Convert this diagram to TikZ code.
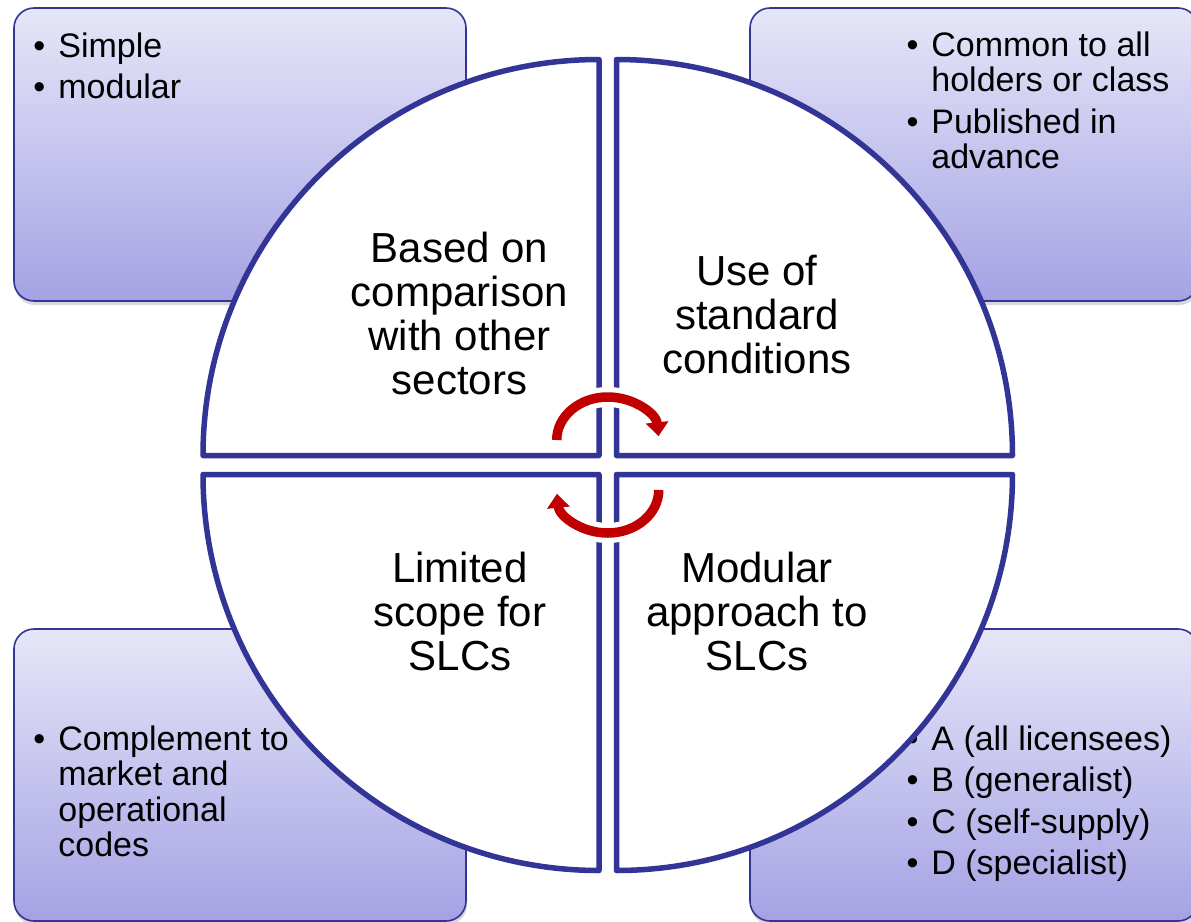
\documentclass[tikz,border=0pt]{standalone}
\usepackage{fontspec}
\setmainfont{Liberation Sans}
\usetikzlibrary{arrows.meta,shadows}
\definecolor{qblue}{RGB}{50,52,150}
\definecolor{btop}{RGB}{230,230,248}
\definecolor{bbot}{RGB}{165,162,228}
\definecolor{darr}{RGB}{192,0,0}
\newcommand\bulitem{\llap{\textbullet\hspace{6.5pt}}}
\begin{document}
\begin{tikzpicture}[x=0.5pt,y=-0.5pt,
 infobox/.style={draw=qblue, line width=0.8pt, rounded corners=10pt, top color=btop, bottom color=bbot,
   drop shadow={opacity=0.3, shadow xshift=0.5pt, shadow yshift=-2pt}},
 quad/.style={draw=qblue, fill=white, line width=2.75pt, line join=round},
 qtext/.style={inner sep=0pt, anchor=base, font=\fontsize{21}{22}\selectfont},
 btext/.style={inner sep=0pt, anchor=base west, font=\fontsize{17}{17.75}\selectfont},
 halo/.style={white, line width=10pt},
 cyc/.style={darr, line width=4.75pt, -{Triangle[length=7pt,width=11pt]}},
]
\useasboundingbox (0,0) rectangle (1191,922);
\fill[white] (0,0) rectangle (1191,922);
% side boxes
\path[infobox] (14,8) rectangle (466,301);
\path[infobox] (750,8) rectangle (1198,301);
\path[infobox] (14,629) rectangle (466,921);
\path[infobox] (750,629) rectangle (1198,921);
% box texts
\node[btext] (tlt) at (58,57) {\begin{tabular}[t]{@{}l@{}}\bulitem Simple\\[3pt]\bulitem modular\end{tabular}};
\node[btext] (trt) at (931,56) {\begin{tabular}[t]{@{}l@{}}\bulitem Common to all\\holders or class\\[3pt]\bulitem Published in\\advance\end{tabular}};
\node[btext] (blt) at (58,750) {\begin{tabular}[t]{@{}l@{}}\bulitem Complement to\\market and\\operational\\codes\end{tabular}};
\node[btext] (brt) at (931,750) {\begin{tabular}[t]{@{}l@{}}\bulitem A (all licensees)\\[3pt]\bulitem B (generalist)\\[3pt]\bulitem C (self-supply)\\[3pt]\bulitem D (specialist)\end{tabular}};
% quadrants
\draw[quad] (599,455.5) -- ++(-396,0) arc[start angle=180, end angle=90, radius=198pt] -- cycle;
\draw[quad] (616.5,455.5) -- ++(0,-396) arc[start angle=90, end angle=0, radius=198pt] -- cycle;
\draw[quad] (599,474.5) -- ++(-396,0) arc[start angle=180, end angle=270, radius=198pt] -- cycle;
\draw[quad] (616.5,474.5) -- ++(396,0) arc[start angle=0, end angle=-90, radius=198pt] -- cycle;
% quadrant texts
\node[qtext] (q1) at (459.5,262) {\begin{tabular}[t]{@{}c@{}}Based on\\comparison\\with other\\sectors\end{tabular}};
\node[qtext] (q2) at (757,285) {\begin{tabular}[t]{@{}c@{}}Use of\\standard\\conditions\end{tabular}};
\node[qtext] (q3) at (460,582) {\begin{tabular}[t]{@{}c@{}}Limited\\scope for\\SLCs\end{tabular}};
\node[qtext] (q4) at (757,582) {\begin{tabular}[t]{@{}c@{}}Modular\\approach to\\SLCs\end{tabular}};
% cycle arrows
\coordinate (ta) at (556.75,440);
\coordinate (ba) at (658.75,490);
\draw[halo] (ta) arc[start angle=180, end angle=25, x radius=25.5pt, y radius=21.5pt];
\draw[halo] (ba) arc[start angle=0, end angle=-155, x radius=25.5pt, y radius=21.5pt];
\draw[cyc] (ta) arc[start angle=180, end angle=5, x radius=25.5pt, y radius=21.5pt];
\draw[cyc] (ba) arc[start angle=0, end angle=-175, x radius=25.5pt, y radius=21.5pt];
\end{tikzpicture}
\end{document}
